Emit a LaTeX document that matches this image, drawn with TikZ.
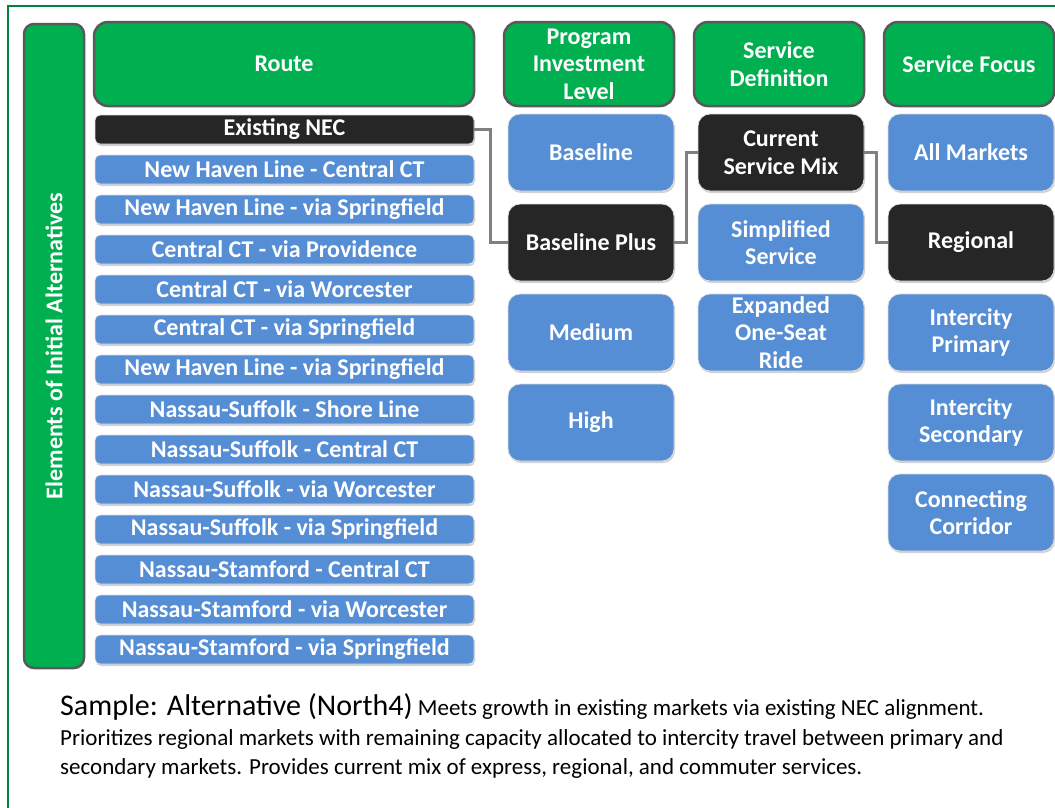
\documentclass[tikz,border=0pt]{standalone}
\usepackage{fontspec}
\setmainfont{Carlito}
\usetikzlibrary{shadows}
\definecolor{boxGreen}{RGB}{0,176,80}
\definecolor{boxBlue}{RGB}{85,142,213}
\definecolor{boxBlack}{RGB}{38,38,38}
\definecolor{edgeGray}{RGB}{89,89,89}
\definecolor{lineGray}{RGB}{128,128,128}
\definecolor{frameGreen}{RGB}{0,130,60}

\tikzset{
  head/.style={fill=boxGreen, draw=edgeGray, line width=2.5pt, rounded corners=14pt,
    minimum height=84pt, inner sep=0pt, text=white, align=center,
    font=\bfseries\fontsize{24}{27.5}\selectfont},
  bar/.style={head, rounded corners=10pt},
  routebox/.style={fill=boxBlue, draw=white!75!gray, line width=0.8pt, rounded corners=5pt,
    minimum width=379pt, minimum height=29pt, inner sep=0pt, text=white,
    font=\bfseries\fontsize{24}{27.5}\selectfont,
    drop shadow={opacity=0.35, shadow xshift=1pt, shadow yshift=-2pt}},
  choice/.style={routebox, rounded corners=12pt, minimum width=166pt, minimum height=77pt, align=center},
  picked/.style={fill=boxBlack},
  link/.style={draw=lineGray, line width=3pt},
  note/.style={anchor=base west, inner sep=0pt, font=\fontsize{23}{29}\selectfont}
}

\begin{document}
\begin{tikzpicture}[x=1pt, y=-1pt]
  \clip (0,0) rectangle (1055,807);
  \fill[white] (0,0) rectangle (1055,807);
  \draw[frameGreen, line width=2pt] (8,6) rectangle (1080,830);

  % headers
  \node[bar, rotate=90, minimum width=644pt, minimum height=60pt] (bar) at (54,346) {Elements of Initial Alternatives};
  \node[head, minimum width=380pt] (route) at (284,64) {Route};
  \node[head, minimum width=170pt] (level) at (589,64) {Program\\Investment\\Level};
  \node[head, minimum width=170pt] (definition) at (779,64) {Service\\Definition};
  \node[head, minimum width=170pt] (focus) at (969,64) {Service Focus};

  % routes
  \foreach \name [count=\i from 0] in {
      New Haven Line - Central CT, New Haven Line - via Springfield,
      Central CT - via Providence, Central CT - via Worcester,
      Central CT - via Springfield, New Haven Line - via Springfield,
      Nassau-Suffolk - Shore Line, Nassau-Suffolk - Central CT,
      Nassau-Suffolk - via Worcester, Nassau-Suffolk - via Springfield,
      Nassau-Stamford - Central CT, Nassau-Stamford - via Worcester,
      Nassau-Stamford - via Springfield}
    \node[routebox] (r\i) at (284.5,169.5+40*\i) {\name};
  \node[routebox, picked] (nec) at (284.5,129.5) {Existing NEC};

  % program investment level
  \node[choice] (baseline) at (591,152.5) {Baseline};
  \node[choice, picked] (plus) at (591,242.5) {Baseline Plus};
  \node[choice] (medium) at (591,332.5) {Medium};
  \node[choice] (high) at (591,422.5) {High};

  % service definition
  \node[choice, picked] (mix) at (781,152.5) {Current\\Service Mix};
  \node[choice] (simple) at (781,242.5) {Simplified\\Service};
  \node[choice] (oneseat) at (781,332.5) {Expanded\\One-Seat\\Ride};

  % service focus
  \node[choice] (all) at (971,152.5) {All Markets};
  \node[choice, picked] (regional) at (971,242.5) {Regional};
  \node[choice] (primary) at (971,332.5) {Intercity\\Primary};
  \node[choice] (secondary) at (971,422.5) {Intercity\\Secondary};
  \node[choice] (corridor) at (971,512.5) {Connecting\\Corridor};

  % selected path
  \draw[link] (nec.east) -- ++(16,0) |- (plus.west);
  \draw[link] (plus.east) -- ++(12,0) |- (mix.west);
  \draw[link] (mix.east) -- ++(12,0) |- (regional.west);

  % sample text
  \node[note] (note1) at (60,715) {{\fontsize{30}{29}\selectfont Sample: Alternative (North4)} Meets growth in existing markets via existing NEC alignment.};
  \node[note] (note2) at (60,745) {Prioritizes regional markets with remaining capacity allocated to intercity travel between primary and};
  \node[note] (note3) at (60,774) {secondary markets. Provides current mix of express, regional, and commuter services.};
\end{tikzpicture}
\end{document}
